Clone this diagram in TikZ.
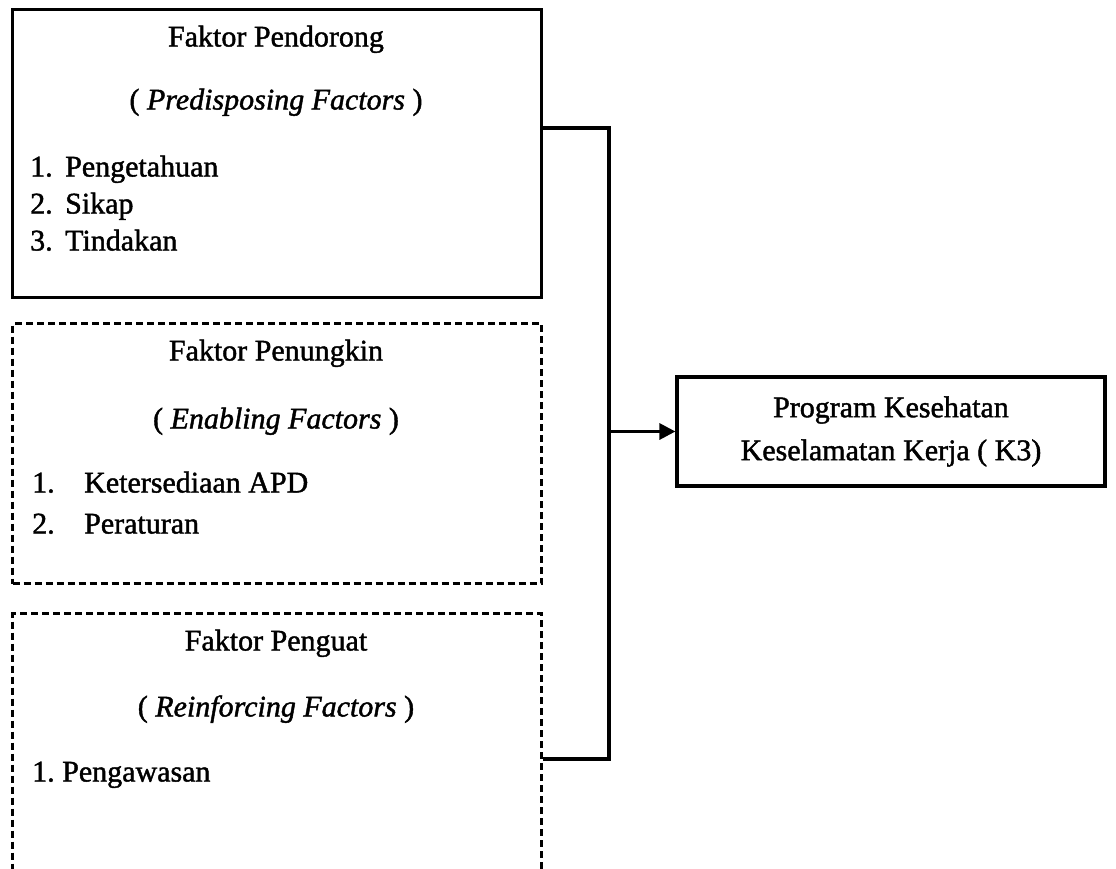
\documentclass[tikz,border=0pt]{standalone}
\usepackage{fontspec}
\setmainfont{Liberation Serif}[FakeBold=1.4]
\usetikzlibrary{arrows.meta}
\begin{document}
\begin{tikzpicture}[x=1pt,y=-1pt,
  solidbox/.style={draw, line width=3.2pt, inner sep=0pt, rectangle},
  dashbox/.style={draw, line width=3pt, dash pattern=on 7pt off 4pt, inner sep=0pt, rectangle},
  txt/.style={inner sep=0pt, font=\fontsize{30}{43}\selectfont, text height=21pt, text depth=6pt},
  conn/.style={line width=3.2pt},
  arr/.style={line width=3.2pt, -{Triangle[length=16pt,width=16pt]}}
]
\useasboundingbox (0,0) rectangle (1116,868);
\clip (0,0) rectangle (1116,868);

% boxes
\node[solidbox, minimum width=529pt, minimum height=288pt, anchor=north west] (b1) at (11,8) {};
\node[dashbox, minimum width=529pt, minimum height=260pt, anchor=north west] (b2) at (11,322) {};
\node[dashbox, minimum width=529pt, minimum height=320pt, anchor=north west] (b3) at (11,612) {};
\node[solidbox, minimum width=428pt, minimum height=109pt, align=center,
      font=\fontsize{30}{43}\selectfont] (k3) at (891,431.5)
      {Program Kesehatan\\Keselamatan Kerja ( K3)};

% box 1 text
\node[txt] (t1) at (276,39) {Faktor Pendorong};
\node[txt] (s1) at (276,102) {( \textit{Predisposing Factors} )};
\node[txt, anchor=west] (i11) at (30,169) {\makebox[35pt][l]{1.}Pengetahuan};
\node[txt, anchor=west] (i12) at (30,206) {\makebox[35pt][l]{2.}Sikap};
\node[txt, anchor=west] (i13) at (30,243) {\makebox[35pt][l]{3.}Tindakan};

% box 2 text
\node[txt] (t2) at (276,353) {Faktor Penungkin};
\node[txt] (s2) at (276,421) {( \textit{Enabling Factors} )};
\node[txt, anchor=west] (i21) at (32,485) {\makebox[52pt][l]{1.}Ketersediaan APD};
\node[txt, anchor=west] (i22) at (32,526) {\makebox[52pt][l]{2.}Peraturan};

% box 3 text
\node[txt] (t3) at (276,643) {Faktor Penguat};
\node[txt] (s3) at (276,709) {( \textit{Reinforcing Factors} )};
\node[txt, anchor=west] (i31) at (32,774) {\makebox[30pt][l]{1.}Pengawasan};

% connectors
\coordinate (jb) at (609,759);
\coordinate (j) at (jb |- k3.west);
\draw[conn] ([yshift=-120pt]b1.north east) -| (jb) -- ([yshift=-147pt]b3.north east);
\draw[arr] (j) -- (k3.west);
\end{tikzpicture}
\end{document}
